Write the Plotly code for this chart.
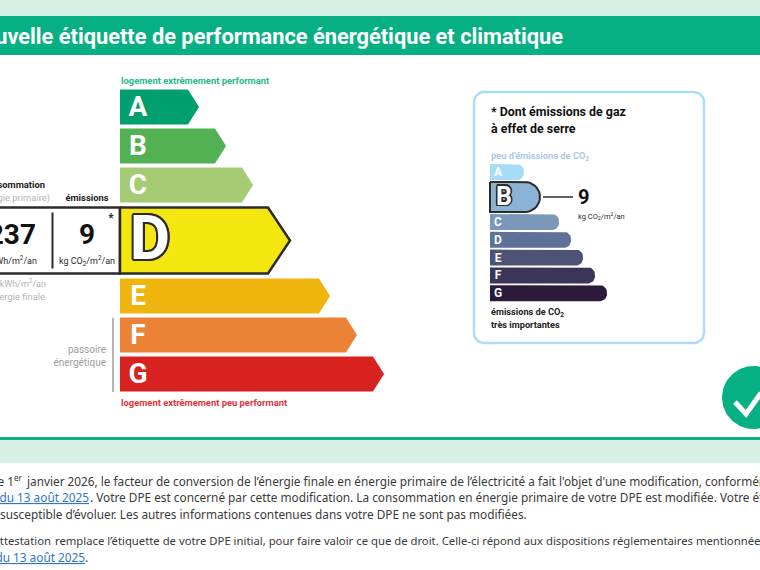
import numpy as np
import plotly.graph_objects as go

dpe_classes = ['A', 'B', 'C', 'D', 'E', 'F', 'G']
dpe_lengths = [79, 106, 133, 170, 210, 237, 264]
dpe_colors = ['#009f6d', '#52b153', '#a5cc74', '#f4e70f', '#f0b40f', '#eb8235', '#d7221f']
dpe_rating = 'D'

ghg_classes = ['A', 'B', 'C', 'D', 'E', 'F', 'G']
ghg_lengths = [34, 50, 69, 81, 93, 105, 117]
ghg_colors = ['#a6dcf8', '#8ab3d5', '#7b98b9', '#5e7299', '#4e5375', '#3b3558', '#2b1a3a']
ghg_rating = 'B'

consumption = 237
emissions = 9

GREEN = '#07b083'
PALE = '#d6f0e5'
DARK = '#2b2b2b'
GREY = '#b4b4b4'
NARROW = 'Roboto'
BODY = 'Noto Sans'
BODY_SIZE = 11.8
ALIGN = {'l': 'middle right', 'r': 'middle left', 'c': 'middle center'}

fig = go.Figure()


def poly(xs, ys, fill, line=None, width=0):
    fig.add_trace(go.Scatter(x=xs, y=ys, mode='lines', fill='toself', fillcolor=fill,
                             line=dict(color=line or fill, width=width), hoverinfo='skip'))


def stroke(xs, ys, color, width):
    fig.add_trace(go.Scatter(x=xs, y=ys, mode='lines', line=dict(color=color, width=width),
                             hoverinfo='skip'))


def label(x, y, s, size, color=DARK, align='l', family=NARROW, bold=False, **font):
    fig.add_trace(go.Scatter(x=[x], y=[y + 1], mode='text', text=['<b>%s</b>' % s if bold else s],
                             textposition=ALIGN[align], cliponaxis=False, hoverinfo='skip',
                             textfont=dict(size=size, color=color, family=family, **font)))


def arrow(x0, top, h, length, tip, fill, line=None, width=0):
    x1 = x0 + length
    poly([x0, x1 - tip, x1, x1 - tip, x0, x0],
         [top, top, top + h / 2, top + h, top + h, top], fill, line, width)


def rounded(x0, top, h, length, r, fill, line=None, width=0):
    x1 = x0 + length
    t = np.linspace(-np.pi / 2, 0, 10)
    b = np.linspace(0, np.pi / 2, 10)
    xs = [x0] + list(x1 - r + r * np.cos(t)) + list(x1 - r + r * np.cos(b)) + [x0, x0]
    ys = [top] + list(top + r + r * np.sin(t)) + list(top + h - r + r * np.sin(b)) + [top + h, top]
    poly(xs, ys, fill, line, width)


def outlined(x, y, s, size):
    # lettre blanche cernee de noir
    off = max(1.5, size / 28)
    sh = ', '.join('%.1fpx %.1fpx 0 %s' % (off * np.cos(a), off * np.sin(a), DARK)
                   for a in np.linspace(0, 2 * np.pi, 12, endpoint=False))
    label(x, y, s, size, 'white', 'c', 'Roboto', True, shadow=sh)


# bandeaux
poly([0, 760, 760, 0, 0], [0, 0, 16, 16, 0], PALE)
poly([0, 760, 760, 0, 0], [16, 16, 55, 55, 16], GREEN)
label(563, 38, 'Nouvelle étiquette de performance énergétique et climatique', 21.8, 'white', 'r', 'Roboto', True)
poly([0, 760, 760, 0, 0], [440, 440, 463, 463, 440], PALE)
stroke([0, 760], [438.5, 438.5], '#0cae85', 3)

# etiquette principale
label(121, 81, 'logement extrêmement performant', 9.4, '#1fb98b', bold=True)
top = 89.5
for c, n, col in zip(dpe_classes, dpe_lengths, dpe_colors):
    if c == dpe_rating:
        top += 1
        poly([-5, 120, 120, -5, -5], [top, top, top + 66, top + 66, top], 'white', DARK, 2.5)
        stroke([52.5, 52.5], [top + 5, top + 61], DARK, 2)
        arrow(120, top, 66, n, 22, col, DARK, 2.5)
        outlined(150, top + 35, c, 62)
        label(36, top + 28, str(consumption), 28, '#111', 'r', 'Roboto', True)
        label(87, top + 28, str(emissions), 28, '#111', 'c', 'Roboto', True)
        label(37, top + 53, 'kWh/m<sup>2</sup>/an', 9, DARK, 'r')
        label(87, top + 53, 'kg CO<sub>2</sub>/m<sup>2</sup>/an', 9, DARK, 'c')
        label(111, top + 10, '*', 12, DARK, 'c', bold=True)
        top += 71
    else:
        arrow(120, top, 35, n, 11, col)
        label(138, top + 18, c, 28, 'white', 'c', 'Roboto', True)
        top += 39

label(45, 185, 'consommation', 9.4, '#222', 'r', bold=True)
label(50, 198, '(énergie primaire)', 9.4, GREY, 'r')
label(87, 198, 'émissions', 9.4, '#222', 'c', bold=True)
label(46, 284, 'kWh/m<sup>2</sup>/an', 9, GREY, 'r')
label(45, 297, "d'énergie finale", 9.4, GREY, 'r')
label(106, 349, 'passoire', 10, '#a0a0a0', 'r')
label(106, 362, 'énergétique', 10, '#a0a0a0', 'r')
stroke([113, 113], [318, 392], GREY, 2)
label(121, 403, 'logement extrêmement peu performant', 9.4, '#e5313a', bold=True)

# encadre gaz a effet de serre
t = np.linspace(0, np.pi / 2, 8)
bx = np.concatenate([704 - 10 + 10 * np.cos(t - np.pi / 2), 704 - 10 + 10 * np.cos(t),
                     474 + 10 + 10 * np.cos(t + np.pi / 2), 474 + 10 + 10 * np.cos(t + np.pi), [694]])
by = np.concatenate([92 + 10 + 10 * np.sin(t - np.pi / 2), 343 - 10 + 10 * np.sin(t),
                     343 - 10 + 10 * np.sin(t + np.pi / 2), 92 + 10 + 10 * np.sin(t + np.pi), [92]])
poly(bx, by, 'white', '#aedcf8', 2.5)
label(491, 112, '* Dont émissions de gaz', 12.4, '#111', bold=True)
label(491, 129, 'à effet de serre', 12.4, '#111', bold=True)
label(491, 156, "peu d'émissions de CO<sub>2</sub>", 9.3, '#a9c9e6', bold=True)
top = 164
for c, n, col in zip(ghg_classes, ghg_lengths, ghg_colors):
    if c == ghg_rating:
        top += 0.2
        rounded(490, top, 30, n, 15, col, DARK, 2)
        outlined(504, top + 15.5, c, 25)
        mid = top + 15
        stroke([490 + n + 3, 490 + n + 33], [mid, mid], DARK, 1.5)
        label(578, mid + 1, str(emissions), 20, '#111', bold=True, family='Roboto')
        label(578, mid + 19, 'kg CO<sub>2</sub>/m<sup>2</sup>/an', 7.5, DARK)
        top += 32
    else:
        rounded(490, top, 16, n, 7, col)
        label(498, top + 8, c, 12, 'white', 'c', 'Roboto', True)
        top += 17.8
label(491, 312, 'émissions de CO<sub>2</sub>', 9.2, '#222', bold=True)
label(491, 325, 'très importantes', 9.2, '#222', bold=True)

# pastille
a = np.linspace(0, 2 * np.pi, 90)
poly(753.5 + 31.5 * np.cos(a), 397.5 + 31.5 * np.sin(a), GREEN)
stroke([735, 746, 761], [402, 414, 393], 'white', 5)

# texte du bas
LINK = '#2f76c9'
TXT = '#3a3a3a'
label(22, 482, 'Depuis le 1<sup>er</sup>', BODY_SIZE, TXT, 'r', BODY)
label(27, 482, "janvier 2026, le facteur de conversion de l’énergie finale en énergie "
      "primaire de l’électricité a fait l'objet d'une modification, conformément", BODY_SIZE, TXT, family=BODY)
label(89, 498, 'arrêté du 13 août 2025', BODY_SIZE, LINK, 'r', BODY, lineposition='under')
label(90, 498, '. Votre DPE est concerné par cette modification. La consommation en énergie primaire '
      'de votre DPE est modifiée. Votre étiquette', BODY_SIZE, TXT, family=BODY)
label(0, 515, "susceptible d’évoluer. Les autres informations contenues dans votre DPE ne sont pas modifiées.",
      BODY_SIZE, TXT, family=BODY)
label(51, 541, 'Cette attestation', 11.3, TXT, 'r', BODY)
label(55, 541, "remplace l’étiquette de votre DPE initial, pour faire valoir ce que de droit. "
      "Celle-ci répond aux dispositions réglementaires mentionnées", 11.3, TXT, family=BODY)
label(85, 558, 'arrêté du 13 août 2025', BODY_SIZE, LINK, 'r', BODY, lineposition='under')
label(85, 558, '.', BODY_SIZE, TXT, family=BODY)

fig.update_xaxes(range=[0, 760], visible=False, fixedrange=True)
fig.update_yaxes(range=[570, 0], visible=False, fixedrange=True)
fig.update_layout(width=760, height=570, margin=dict(l=0, r=0, t=0, b=0), showlegend=False,
                  paper_bgcolor='white', plot_bgcolor='white')
fig.write_html("out.html", config=dict(displayModeBar=False),
               post_script="document.body.style.margin='0';")
